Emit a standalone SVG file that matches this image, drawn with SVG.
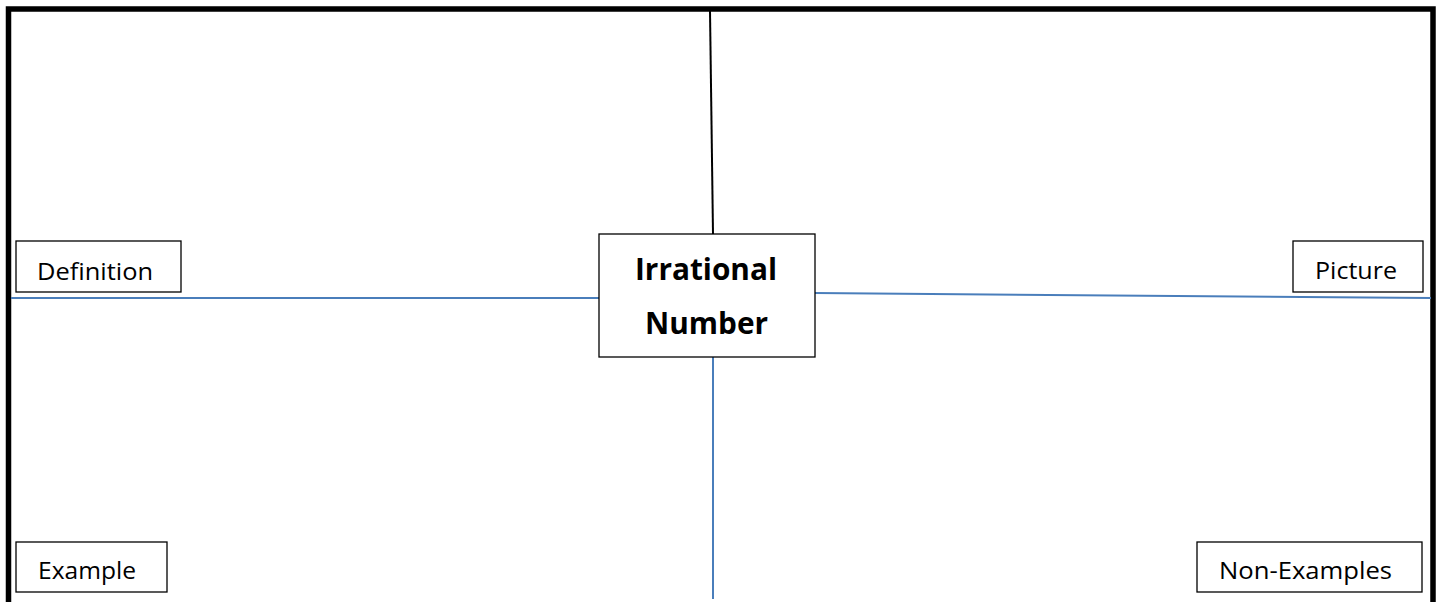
<svg xmlns="http://www.w3.org/2000/svg" width="1439" height="602" viewBox="0 0 1439 602">
<style>
.box{fill:#fff;stroke:#000;stroke-width:1.3}
.lbl{font-family:"Open Sans","Liberation Sans",sans-serif;font-size:24.5px;fill:#000}
.title{font-family:"Open Sans","Liberation Sans",sans-serif;font-size:31px;font-weight:bold;fill:#000;text-anchor:middle}
.blue{stroke:#4a7ebb;stroke-width:2;fill:none}
</style>
<rect width="1439" height="602" fill="#fff"/>
<path d="M8.5,602 V9 H1433 V602" fill="none" stroke="#000" stroke-width="5.5" stroke-linejoin="miter"/>
<g id="connectors">
<line x1="710" y1="11" x2="713" y2="234" stroke="#000" stroke-width="2"/>
<line class="blue" x1="11" y1="298" x2="599" y2="298"/>
<line class="blue" x1="815" y1="293" x2="1431" y2="298"/>
<line class="blue" x1="713" y1="357" x2="713" y2="599"/>
</g>
<g id="center">
<rect class="box" x="599" y="234" width="216" height="123"/>
<text class="title" x="706" y="280" textLength="142" lengthAdjust="spacingAndGlyphs">Irrational</text>
<text class="title" x="706.5" y="334" textLength="123" lengthAdjust="spacingAndGlyphs">Number</text>
</g>
<g id="definition">
<rect class="box" x="16" y="241" width="165" height="51"/>
<text class="lbl" x="37" y="280" textLength="116" lengthAdjust="spacingAndGlyphs">Definition</text>
</g>
<g id="picture">
<rect class="box" x="1293" y="241" width="130" height="51"/>
<text class="lbl" x="1315" y="279" textLength="82" lengthAdjust="spacingAndGlyphs">Picture</text>
</g>
<g id="example">
<rect class="box" x="16" y="542" width="151" height="50"/>
<text class="lbl" x="38" y="579" textLength="98" lengthAdjust="spacingAndGlyphs">Example</text>
</g>
<g id="nonexamples">
<rect class="box" x="1197" y="542" width="225" height="50"/>
<text class="lbl" x="1219" y="579" textLength="173" lengthAdjust="spacingAndGlyphs">Non-Examples</text>
</g>
</svg>
